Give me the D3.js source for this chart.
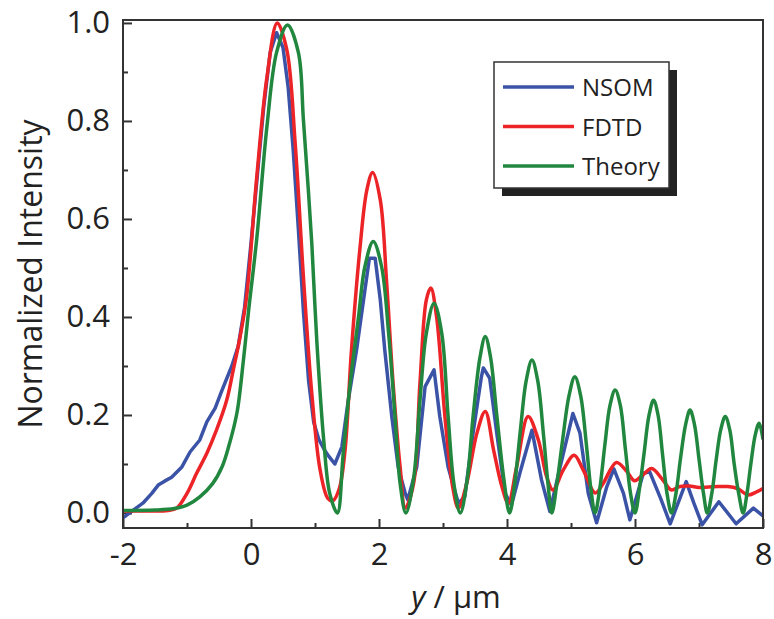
<!DOCTYPE html>
<html>
<head>
<meta charset="utf-8">
<script src="https://cdn.jsdelivr.net/npm/d3@7"></script>
<style>
  body { margin: 0; background: #fff; }
  svg text { font-family: "Open Sans", "Noto Sans", sans-serif; fill: #222; }
</style>
</head>
<body>
<div id="chart"></div>
<script>
// series: [y in um, normalized intensity]
const nsom = [
    [-2.0, -0.01], [-1.85, 0.005], [-1.69, 0.02], [-1.55, 0.04], [-1.45, 0.057], [-1.35, 0.065],
    [-1.24, 0.073], [-1.08, 0.094], [-0.95, 0.125], [-0.8, 0.149], [-0.69, 0.186], [-0.56, 0.214],
    [-0.46, 0.248], [-0.3, 0.3], [-0.2, 0.34], [-0.1, 0.42], [0.0, 0.55], [0.1, 0.69],
    [0.2, 0.83], [0.3, 0.94], [0.4, 0.98], [0.5, 0.95], [0.58, 0.87], [0.66, 0.74],
    [0.74, 0.58], [0.82, 0.41], [0.9, 0.27], [0.98, 0.185], [1.06, 0.15], [1.15, 0.128],
    [1.22, 0.115], [1.31, 0.1], [1.42, 0.135], [1.52, 0.23], [1.65, 0.333],
    [1.78, 0.455], [1.85, 0.52], [1.94, 0.52], [2.02, 0.435], [2.09, 0.333], [2.2, 0.197],
    [2.3, 0.094], [2.41, 0.04], [2.45, 0.027], [2.59, 0.094], [2.72, 0.258], [2.86, 0.292],
    [2.95, 0.197], [3.08, 0.094], [3.24, 0.02], [3.34, 0.033], [3.47, 0.163], [3.6, 0.278],
    [3.63, 0.296], [3.73, 0.275], [3.84, 0.163], [3.97, 0.04], [4.07, 0.016], [4.2, 0.081],
    [4.39, 0.169], [4.54, 0.067], [4.67, 0.003], [4.83, 0.094], [5.03, 0.203], [5.14, 0.163],
    [5.27, 0.04], [5.4, -0.02], [5.56, 0.054], [5.67, 0.09], [5.82, 0.04], [5.92, -0.014],
    [6.13, 0.081], [6.23, 0.084], [6.4, 0.03], [6.55, -0.022], [6.8, 0.064], [6.92, 0.02],
    [7.05, -0.024], [7.31, 0.023], [7.58, -0.022], [7.85, 0.01], [8.0, -0.006]
];

const fdtd = [
    [-2.0, 0.004], [-1.6, 0.004], [-1.3, 0.005], [-1.16, 0.01], [-1.0, 0.04], [-0.85, 0.081],
    [-0.69, 0.122], [-0.54, 0.169], [-0.38, 0.23], [-0.28, 0.29], [-0.17, 0.36], [-0.07, 0.44],
    [0.09, 0.686], [0.25, 0.89], [0.41, 1.0], [0.56, 0.945], [0.69, 0.755], [0.82, 0.48],
    [0.95, 0.244], [1.08, 0.088], [1.2, 0.03], [1.28, 0.025], [1.38, 0.05], [1.47, 0.129],
    [1.57, 0.333], [1.7, 0.537], [1.81, 0.659], [1.9, 0.695], [2.02, 0.639], [2.12, 0.469],
    [2.22, 0.265], [2.33, 0.094], [2.41, 0.01], [2.54, 0.06], [2.64, 0.265], [2.74, 0.435],
    [2.81, 0.459], [2.9, 0.4], [3.03, 0.197], [3.16, 0.047], [3.24, 0.01], [3.37, 0.06],
    [3.53, 0.163], [3.66, 0.207], [3.79, 0.129], [3.92, 0.054], [4.02, 0.02], [4.15, 0.094],
    [4.33, 0.197], [4.49, 0.149], [4.62, 0.074], [4.72, 0.047], [4.88, 0.088], [5.05, 0.118],
    [5.19, 0.088], [5.38, 0.041], [5.5, 0.06], [5.71, 0.103], [5.87, 0.085], [5.99, 0.066],
    [6.1, 0.075], [6.26, 0.091], [6.42, 0.07], [6.57, 0.047], [6.7, 0.054], [6.85, 0.055],
    [7.0, 0.052], [7.15, 0.053], [7.3, 0.054], [7.45, 0.054], [7.6, 0.05], [7.77, 0.037],
    [7.9, 0.043], [8.0, 0.05]
];

const theory = [
    [-2.0, 0.005], [-1.5, 0.006], [-1.2, 0.009], [-1.0, 0.016], [-0.8, 0.033], [-0.6, 0.06],
    [-0.45, 0.095], [-0.35, 0.135], [-0.22, 0.204], [-0.12, 0.31], [-0.04, 0.41], [0.09, 0.56],
    [0.25, 0.79], [0.4, 0.94], [0.57, 0.996], [0.74, 0.94], [0.82, 0.8], [0.95, 0.55],
    [1.03, 0.347], [1.14, 0.143], [1.23, 0.04], [1.35, 0.0],
    [1.44, 0.12], [1.55, 0.265], [1.68, 0.4], [1.78, 0.503], [1.91, 0.554], [2.04, 0.503],
    [2.15, 0.367], [2.25, 0.197], [2.33, 0.06], [2.42, 0.0],
    [2.54, 0.07], [2.64, 0.23], [2.74, 0.367], [2.86, 0.428], [2.98, 0.367], [3.08, 0.197],
    [3.17, 0.06], [3.27, 0.0],
    [3.38, 0.07], [3.47, 0.197], [3.58, 0.319], [3.66, 0.36], [3.74, 0.32], [3.84, 0.2],
    [3.95, 0.07], [4.04, 0.0],
    [4.12, 0.06], [4.21, 0.17], [4.3, 0.27], [4.39, 0.312], [4.48, 0.27], [4.57, 0.16],
    [4.64, 0.06], [4.7, 0.0],
    [4.78, 0.06], [4.87, 0.15], [4.97, 0.24], [5.06, 0.278], [5.15, 0.24], [5.24, 0.14],
    [5.31, 0.05], [5.375, 0.0],
    [5.45, 0.05], [5.53, 0.14], [5.61, 0.22], [5.69, 0.251], [5.77, 0.22], [5.85, 0.13],
    [5.93, 0.04], [6.0, 0.0],
    [6.07, 0.05], [6.14, 0.12], [6.22, 0.2], [6.29, 0.23], [6.36, 0.2], [6.43, 0.12],
    [6.5, 0.04], [6.57, 0.0],
    [6.64, 0.04], [6.71, 0.11], [6.79, 0.18], [6.86, 0.21], [6.93, 0.18], [7.0, 0.11],
    [7.07, 0.04], [7.13, 0.0],
    [7.2, 0.04], [7.27, 0.11], [7.34, 0.17], [7.41, 0.197], [7.48, 0.17], [7.55, 0.1],
    [7.62, 0.04], [7.69, 0.0],
    [7.75, 0.04], [7.81, 0.1], [7.88, 0.16], [7.94, 0.183], [8.0, 0.15]
];

const seriesNames = ["NSOM", "FDTD", "Theory"];
const xMajor = [-2, 0, 2, 4, 6, 8];
const xMinor = [-1, 1, 3, 5, 7];
const yMajor = [0.0, 0.2, 0.4, 0.6, 0.8, 1.0];
const yMinor = [0.1, 0.3, 0.5, 0.7, 0.9];

const colors = { NSOM: "#3b53a6", FDTD: "#ec2428", Theory: "#21873f" };

const w = 774, h = 619;
const margin = { top: 20, right: 10, bottom: 91, left: 123 };
const width = w - margin.left - margin.right;
const height = h - margin.top - margin.bottom;

const svg = d3.select("#chart").append("svg")
    .attr("width", w)
    .attr("height", h)
    .append("g")
    .attr("transform", "translate(" + margin.left + "," + margin.top + ")");

// SCALES
const x = d3.scaleLinear().domain([-2, 8]).range([0, 640]);
const y = d3.scaleLinear().domain([-0.0306, 1.006]).range([height, 0]);

svg.append("clipPath").attr("id", "plotclip")
    .append("rect").attr("width", 641).attr("height", height);

// AXES (ticks point inward)
svg.append("g")
    .attr("transform", "translate(0," + height + ")")
    .call(d3.axisBottom(x).tickValues(xMajor).tickSize(-9).tickPadding(15).tickFormat(d => d));
svg.append("g")
    .attr("transform", "translate(0," + height + ")")
    .call(d3.axisBottom(x).tickValues(xMinor).tickSize(-5).tickFormat(""));

svg.append("g")
    .call(d3.axisLeft(y).tickValues(yMajor).tickSize(-9).tickPadding(13).tickFormat(d3.format(".1f")));
svg.append("g")
    .call(d3.axisLeft(y).tickValues(yMinor).tickSize(-5).tickFormat(""));

svg.selectAll(".domain").remove();
svg.selectAll(".tick line").attr("stroke", "#333").attr("stroke-width", 2);
svg.selectAll(".tick text").style("font-size", "31px").attr("fill", "#222");

// LINES
const smooth = d3.line().x(d => x(d[0])).y(d => y(d[1])).curve(d3.curveCatmullRom.alpha(0.5));
const straight = d3.line().x(d => x(d[0])).y(d => y(d[1]));

const lines = svg.append("g").attr("clip-path", "url(#plotclip)");
lines.append("path").datum(nsom)
    .attr("d", straight).attr("fill", "none")
    .attr("stroke", colors.NSOM).attr("stroke-width", 3.5).attr("stroke-linejoin", "round");
lines.append("path").datum(fdtd)
    .attr("d", smooth).attr("fill", "none")
    .attr("stroke", colors.FDTD).attr("stroke-width", 3.5);
lines.append("path").datum(theory)
    .attr("d", smooth).attr("fill", "none")
    .attr("stroke", colors.Theory).attr("stroke-width", 3.5);

// frame
svg.append("rect")
    .attr("x", 0).attr("y", 0)
    .attr("width", 640).attr("height", height)
    .attr("fill", "none").attr("stroke", "#333").attr("stroke-width", 2);

// axis titles
const xt = svg.append("text")
    .attr("x", 333).attr("y", height + 80)
    .attr("text-anchor", "middle")
    .style("font-size", "31px");
xt.append("tspan").style("font-style", "italic").text("y");
xt.append("tspan").text(" / μm");

svg.append("text")
    .attr("transform", "translate(" + (-81) + "," + (height / 2) + ") rotate(-90)")
    .attr("text-anchor", "middle")
    .style("font-size", "32px")
    .text("Normalized Intensity");

// legend
const legend = svg.append("g").attr("transform", "translate(371,42)");
legend.append("rect")
    .attr("x", 8).attr("y", 8).attr("width", 175).attr("height", 126)
    .attr("fill", "#222");
legend.append("rect")
    .attr("width", 175).attr("height", 126)
    .attr("fill", "#fff").attr("stroke", "#333").attr("stroke-width", 1.5);

seriesNames.forEach((name, i) => {
    const ly = 25 + i * 39.5;
    legend.append("line")
        .attr("x1", 9).attr("x2", 80).attr("y1", ly).attr("y2", ly)
        .attr("stroke", colors[name]).attr("stroke-width", 3.5);
    legend.append("text")
        .attr("x", 88).attr("y", ly + 9)
        .style("font-size", "24px")
        .text(name);
});
</script>
</body>
</html>
